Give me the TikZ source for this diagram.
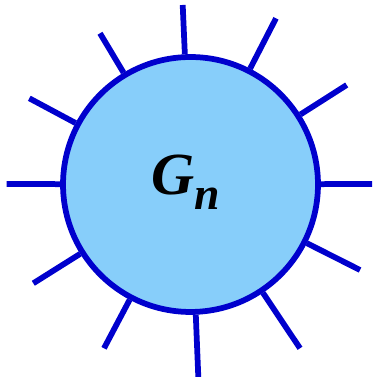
\documentclass[tikz,border=0pt]{standalone}
\usepackage{fontspec}
\setmainfont{Liberation Serif}
\usetikzlibrary{positioning}
\definecolor{rimblue}{RGB}{0,0,205}
\definecolor{skyfill}{RGB}{135,206,250}

\begin{document}
\begin{tikzpicture}[x=0.02cm, y=0.02cm, leg/.style={draw=rimblue, line width=0.115cm, line cap=butt}]
\useasboundingbox (0,0) rectangle (372,377);
% the graph
\node[circle, draw=rimblue, fill=skyfill, line width=0.115cm, minimum size=5.1cm, inner sep=0pt] (g) at (190.5,192.5) {};
\node[anchor=base west, inner sep=0pt, font=\fontsize{34}{34}\selectfont\bfseries\itshape] (lbl) at (151,182) {G\raisebox{-8.5pt}{\fontsize{26}{26}\selectfont n}};
% free ends of the legs
\coordinate (e1) at (372,193);
\coordinate (e2) at (346.7,292);
\coordinate (e3) at (276,358.7);
\coordinate (e4) at (182.7,372);
\coordinate (e5) at (100,343.7);
\coordinate (e6) at (29.3,278.7);
\coordinate (e7) at (6.7,193);
\coordinate (e8) at (33.3,93.7);
\coordinate (e9) at (104,28.7);
\coordinate (e10) at (198.3,0);
\coordinate (e11) at (300,28.7);
\coordinate (e12) at (360,107);
% legs
\draw[leg] (g) -- (e1);
\draw[leg] (g) -- (e2);
\draw[leg] (g) -- (e3);
\draw[leg] (g) -- (e4);
\draw[leg] (g) -- (e5);
\draw[leg] (g) -- (e6);
\draw[leg] (g) -- (e7);
\draw[leg] (g) -- (e8);
\draw[leg] (g) -- (e9);
\draw[leg] (g) -- (e10);
\draw[leg] (g) -- (e11);
\draw[leg] (g) -- (e12);
\end{tikzpicture}
\end{document}
